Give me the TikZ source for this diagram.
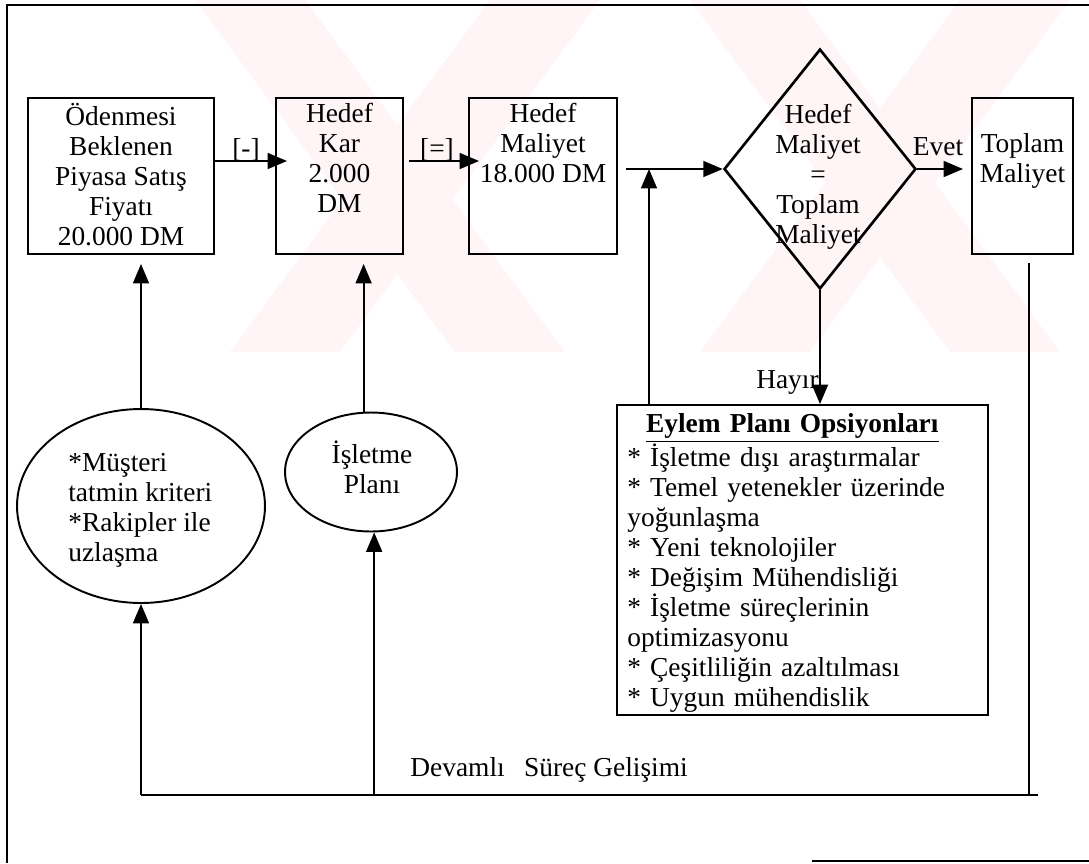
\documentclass[tikz,border=0pt]{standalone}
\usepackage{fontspec}
\setmainfont{Liberation Serif}
\usetikzlibrary{shapes.geometric,arrows.meta,calc,positioning}

\definecolor{filigran}{RGB}{255,244,246}

\tikzset{
  kutu/.style={draw, line width=1.1pt, inner sep=0pt},
  yazi/.style={inner sep=0pt, align=center, execute at begin node={\rule{0pt}{14pt}}},
  etiket/.style={inner sep=0pt},
  hat/.style={line width=1.1pt},
  ok/.style={line width=1.1pt, -{Triangle[length=11pt,width=9pt]}}
}

\begin{document}
\begin{tikzpicture}[x=0.02cm, y=-0.02cm, font=\fontsize{15.6}{17.07}\selectfont]
        \useasboundingbox (0,0) rectangle (1089,863);

        % soluk filigran
        \begin{scope}
          \clip (190,0) rectangle (1089,352);
          \fill[filigran] (195,0) -- (305,0) -- (565,352) -- (455,352) -- cycle;
          \fill[filigran] (230,352) -- (340,352) -- (600,0) -- (490,0) -- cycle;
          \fill[filigran] (690,0) -- (800,0) -- (1060,352) -- (950,352) -- cycle;
          \fill[filigran] (700,352) -- (810,352) -- (1070,0) -- (960,0) -- cycle;
        \end{scope}

        % cerceve
        \draw[hat] (7,863) -- (7,5) -- (1089,5);
        \draw[hat] (812,861) -- (1089,861);

        % ust sira
        \node[kutu, minimum width=3.72cm, minimum height=3.12cm] (odeme) at (121,176) {};
        \node[kutu, minimum width=2.54cm, minimum height=3.12cm] (kar) at (339.5,176) {};
        \node[kutu, minimum width=2.96cm, minimum height=3.12cm] (hmaliyet) at (543,176) {};
        \node[kutu, diamond, line width=1.5pt, minimum width=3.84cm, minimum height=4.8cm] (karar) at (820,169) {};
        \node[kutu, minimum width=2.02cm, minimum height=3.12cm] (toplam) at (1022.5,176) {};

        % alt kisim
        \node[kutu, ellipse, minimum width=4.96cm, minimum height=3.88cm] (musteri) at (141,506) {};
        \node[kutu, ellipse, minimum width=3.44cm, minimum height=2.38cm] (plan) at (371,472) {};
        \node[kutu, minimum width=7.42cm, minimum height=6.2cm] (eylem) at (802.5,560) {};

        % yazilar
        \node[yazi, anchor=north] (odemeY) at ($(odeme.north)+(0,6)$) {Ödenmesi\\Beklenen\\Piyasa Satış\\Fiyatı\\20.000 DM};
        \node[yazi, anchor=north] (karY) at ($(kar.north)+(0,6)$) {Hedef\\Kar\\2.000\\DM};
        \node[yazi, anchor=north] (hmaliyetY) at ($(hmaliyet.north)+(0,6)$) {Hedef\\Maliyet\\18.000 DM};
        \node[yazi, anchor=north] (kararY) at (818,104) {Hedef\\Maliyet\\=\\Toplam\\Maliyet};
        \node[yazi, anchor=north] (toplamY) at ($(toplam.north)+(0,36)$) {Toplam\\Maliyet};
        \node[yazi, anchor=north west, align=left] (musteriY) at (68,453) {*Müşteri\\tatmin kriteri\\{*}Rakipler ile\\uzlaşma};
        \node[yazi, anchor=north] (planY) at (372,441) {İşletme\\Planı};
        \node[yazi, anchor=north west, align=left, text width=6.6cm] (eylemY) at (627,408)
          {\makebox[\linewidth]{\textbf{\underline{Eylem Planı Opsiyonları}}}\\
           {*} İşletme dışı araştırmalar\\
           {*} Temel yetenekler üzerinde\\
           yoğunlaşma\\
           {*} Yeni teknolojiler\\
           {*} Değişim Mühendisliği\\
           {*} İşletme süreçlerinin\\
           optimizasyonu\\
           {*} Çeşitliliğin azaltılması\\
           {*} Uygun mühendislik};

        % akis oklari
        \draw[ok] ($(odeme.east)+(0,-15)$) -- ($(kar.west)+(12,-15)$);
        \node[etiket] (eksi) at (246,150) {[-]};
        \draw[ok] ($(kar.east)+(5,-15)$) -- ($(hmaliyet.west)+(11,-15)$);
        \node[etiket] (esit) at (437,150) {[=]};
        \draw[ok] ($(hmaliyet.east)+(8,-7)$) -- (karar.west);
        \draw[ok] (karar.east) -- ($(toplam.west)+(-8,-7)$);
        \node[etiket] (evet) at (938,147) {Evet};
        \draw[ok] (karar.south) -- (karar.south |- eylem.north);
        \node[etiket, anchor=east] (hayir) at (819,382) {Hayır};

        \coordinate (kavsak) at (649,169);
        \draw[ok] (kavsak |- eylem.north) -- (kavsak);

        \draw[ok] (musteri.north) -- ($(musteri.north |- odeme.south)+(0,9)$);
        \draw[ok] (plan.97) -- ($(plan.97 |- kar.south)+(0,9)$);

        % geri besleme
        \coordinate (altsol) at (141,795);
        \coordinate (altsag) at (1038,795);
        \coordinate (donus) at ($(toplam.south)+(6.5,8)$);
        \draw[hat] (altsol) -- (altsag);
        \draw[hat] (donus) -- (donus |- altsag);
        \draw[ok] (altsol) -- (musteri.south);
        \draw[ok] (altsol -| plan.-87) -- (plan.-87);
        \node[etiket, anchor=west] (devamli) at (410,770) {Devamlı\hspace{11pt}Süreç Gelişimi};
\end{tikzpicture}
\end{document}
